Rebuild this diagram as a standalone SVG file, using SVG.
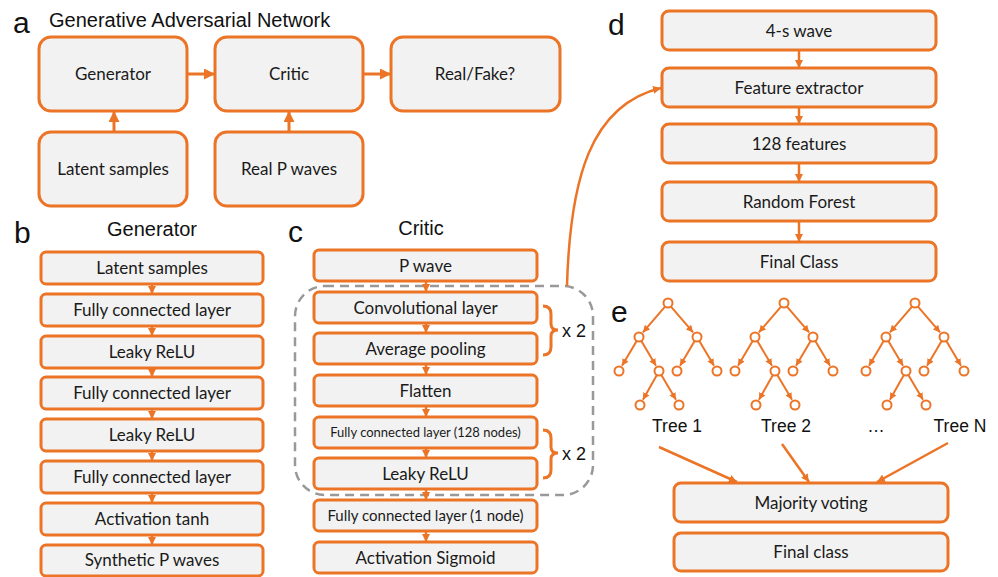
<svg xmlns="http://www.w3.org/2000/svg" width="998" height="577" viewBox="0 0 998 577">
<defs>
<style>
.bx{fill:#F2F2F2;stroke:#EC7426;stroke-width:3}
.t{font-family:Lato,"Open Sans",sans-serif;font-size:17px;fill:#1a1a1a;text-anchor:middle}
.ts{font-size:13px}
.tm{font-size:15px}
.h{font-family:"Liberation Sans",Arial,sans-serif;fill:#111}
.lt{font-family:"Liberation Sans",Arial,sans-serif;font-size:30px;fill:#111}
.c{stroke:#EC7426;stroke-width:3;fill:none}
.c2{stroke:#EC7426;stroke-width:2.5;fill:none}
.te{stroke:#EC7426;stroke-width:2;fill:none}
.nd{fill:#fff;stroke:#EC7426;stroke-width:2}
</style>
<marker id="ah" markerUnits="userSpaceOnUse" markerWidth="11" markerHeight="11" refX="11" refY="5.5" orient="auto"><path d="M0,0 L11,5.5 L0,11 z" fill="#EC7426"/></marker>
<marker id="ahs" markerUnits="userSpaceOnUse" markerWidth="8" markerHeight="8" refX="8" refY="4" orient="auto"><path d="M0,0 L8,4 L0,8 z" fill="#EC7426"/></marker>
<marker id="aht" markerUnits="userSpaceOnUse" markerWidth="7" markerHeight="7" refX="7" refY="3.5" orient="auto"><path d="M0,0 L7,3.5 L0,7 z" fill="#EC7426"/></marker>
<g id="tree">
<line class="te" marker-end="url(#aht)" x1="-3.2" y1="3.8" x2="-25.1" y2="29.4"/>
<line class="te" marker-end="url(#aht)" x1="3.2" y1="3.8" x2="25.1" y2="29.4"/>
<line class="te" marker-end="url(#aht)" x1="-31.5" y1="38.3" x2="-46" y2="62.8"/>
<line class="te" marker-end="url(#aht)" x1="-26.5" y1="38.3" x2="-12" y2="62.8"/>
<line class="te" marker-end="url(#aht)" x1="26.5" y1="38.3" x2="12" y2="62.8"/>
<line class="te" marker-end="url(#aht)" x1="31.5" y1="38.3" x2="46" y2="62.8"/>
<line class="te" marker-end="url(#aht)" x1="-11.4" y1="72.4" x2="-25.1" y2="96.8"/>
<line class="te" marker-end="url(#aht)" x1="-6.5" y1="72.3" x2="8" y2="96.8"/>
<circle class="nd" cx="0" cy="0" r="4.5"/>
<circle class="nd" cx="-29" cy="34" r="4.5"/>
<circle class="nd" cx="29" cy="34" r="4.5"/>
<circle class="nd" cx="-49" cy="68" r="4.5"/>
<circle class="nd" cx="-9" cy="68" r="4.5"/>
<circle class="nd" cx="9" cy="68" r="4.5"/>
<circle class="nd" cx="49" cy="68" r="4.5"/>
<circle class="nd" cx="-28" cy="102" r="4.5"/>
<circle class="nd" cx="11" cy="102" r="4.5"/>
</g>
</defs>
<rect width="998" height="577" fill="#fff"/>

<!-- Panel labels and headings -->
<text class="lt" x="13" y="33">a</text>
<text class="h" x="49" y="27" font-size="20">Generative Adversarial Network</text>
<text class="lt" x="14" y="243">b</text>
<text class="h" x="152" y="236" font-size="20" text-anchor="middle">Generator</text>
<text class="lt" x="288" y="242">c</text>
<text class="h" x="421" y="235" font-size="20" text-anchor="middle">Critic</text>
<text class="lt" x="608" y="35">d</text>
<text class="lt" x="611" y="322">e</text>

<!-- Panel a -->
<g id="a-generator"><rect class="bx" x="39" y="37" width="148" height="74" rx="12"/><text class="t" x="113" y="80">Generator</text></g>
<g id="a-critic"><rect class="bx" x="215" y="37" width="148" height="74" rx="12"/><text class="t" x="289" y="80">Critic</text></g>
<g id="a-realfake"><rect class="bx" x="391" y="37" width="169" height="74" rx="12"/><text class="t" x="475" y="80">Real/Fake?</text></g>
<g id="a-latent"><rect class="bx" x="39" y="132" width="148" height="74" rx="12"/><text class="t" x="113" y="175">Latent samples</text></g>
<g id="a-real"><rect class="bx" x="215" y="132" width="148" height="74" rx="12"/><text class="t" x="289" y="175">Real P waves</text></g>

<!-- Panel b -->
<g id="b-1"><rect class="bx" x="41" y="252" width="222" height="32" rx="5"/><text class="t" x="152" y="274">Latent samples</text></g>
<g id="b-2"><rect class="bx" x="41" y="294" width="222" height="32" rx="5"/><text class="t" x="152" y="316">Fully connected layer</text></g>
<g id="b-3"><rect class="bx" x="41" y="336" width="222" height="32" rx="5"/><text class="t" x="152" y="358">Leaky ReLU</text></g>
<g id="b-4"><rect class="bx" x="41" y="377" width="222" height="32" rx="5"/><text class="t" x="152" y="399">Fully connected layer</text></g>
<g id="b-5"><rect class="bx" x="41" y="419" width="222" height="32" rx="5"/><text class="t" x="152" y="441">Leaky ReLU</text></g>
<g id="b-6"><rect class="bx" x="41" y="461" width="222" height="32" rx="5"/><text class="t" x="152" y="483">Fully connected layer</text></g>
<g id="b-7"><rect class="bx" x="41" y="503" width="222" height="32" rx="5"/><text class="t" x="152" y="525">Activation tanh</text></g>
<g id="b-8"><rect class="bx" x="41" y="545" width="222" height="31" rx="5"/><text class="t" x="152" y="566">Synthetic P waves</text></g>

<!-- Panel c -->
<rect x="295" y="286" width="298" height="209" rx="30" fill="none" stroke="#999" stroke-width="2.5" stroke-dasharray="9 6"/>
<g id="c-1"><rect class="bx" x="314" y="250" width="223" height="31" rx="5"/><text class="t" x="425.5" y="271.5">P wave</text></g>
<g id="c-2"><rect class="bx" x="314" y="292" width="223" height="31" rx="5"/><text class="t" x="425.5" y="313.5">Convolutional layer</text></g>
<g id="c-3"><rect class="bx" x="314" y="333" width="223" height="31" rx="5"/><text class="t" x="425.5" y="354.5">Average pooling</text></g>
<g id="c-4"><rect class="bx" x="314" y="375" width="223" height="31" rx="5"/><text class="t" x="425.5" y="396.5">Flatten</text></g>
<g id="c-5"><rect class="bx" x="314" y="417" width="223" height="31" rx="5"/><text class="t ts" x="425.5" y="437">Fully connected layer (128 nodes)</text></g>
<g id="c-6"><rect class="bx" x="314" y="458" width="223" height="31" rx="5"/><text class="t" x="425.5" y="479.5">Leaky ReLU</text></g>
<g id="c-7"><rect class="bx" x="314" y="500" width="223" height="31" rx="5"/><text class="t tm" x="425.5" y="521">Fully connected layer (1 node)</text></g>
<g id="c-8"><rect class="bx" x="314" y="542" width="223" height="31" rx="5"/><text class="t" x="425.5" y="563.5">Activation Sigmoid</text></g>
<g id="c-brace1"><path class="c" d="M543,306 Q551,306 551,314 L551,324 Q551,330 558,330 Q551,330 551,336 L551,347 Q551,355 543,355"/><text class="h" x="562" y="337" font-size="18">x 2</text></g>
<g id="c-brace2"><path class="c" d="M543,430 Q551,430 551,438 L551,447 Q551,453 558,453 Q551,453 551,459 L551,470 Q551,478 543,478"/><text class="h" x="562" y="460" font-size="18">x 2</text></g>

<!-- Panel d -->
<g id="d-1"><rect class="bx" x="662" y="11" width="274" height="39" rx="7"/><text class="t" x="799" y="36.5">4-s wave</text></g>
<g id="d-2"><rect class="bx" x="662" y="68" width="274" height="39" rx="7"/><text class="t" x="799" y="93.5">Feature extractor</text></g>
<g id="d-3"><rect class="bx" x="662" y="124" width="274" height="39" rx="7"/><text class="t" x="799" y="149.5">128 features</text></g>
<g id="d-4"><rect class="bx" x="662" y="182" width="274" height="39" rx="7"/><text class="t" x="799" y="207.5">Random Forest</text></g>
<g id="d-5"><rect class="bx" x="662" y="242" width="274" height="39" rx="7"/><text class="t" x="799" y="267.5">Final Class</text></g>

<!-- Panel e -->
<g id="e-tree1"><use href="#tree" x="668" y="303"/><text class="h" x="677" y="432" font-size="17.5" text-anchor="middle">Tree 1</text></g>
<g id="e-tree2"><use href="#tree" x="784" y="303"/><text class="h" x="786" y="432" font-size="17.5" text-anchor="middle">Tree 2</text></g>
<text class="h" x="876" y="432" font-size="17.5" text-anchor="middle">…</text>
<g id="e-treeN"><use href="#tree" x="915" y="303"/><text class="h" x="960" y="432" font-size="17.5" text-anchor="middle">Tree N</text></g>
<g id="e-vote"><rect class="bx" x="674" y="483" width="274" height="39" rx="7"/><text class="t" x="811" y="508.5">Majority voting</text></g>
<g id="e-final"><rect class="bx" x="674" y="533" width="274" height="38" rx="7"/><text class="t" x="811" y="558">Final class</text></g>

<!-- Connectors -->
<g id="connectors">
<line class="c" marker-end="url(#ah)" x1="187" y1="74" x2="215" y2="74"/>
<line class="c" marker-end="url(#ah)" x1="363" y1="74" x2="391" y2="74"/>
<line class="c" marker-end="url(#ah)" x1="114" y1="132" x2="114" y2="111"/>
<line class="c" marker-end="url(#ah)" x1="289" y1="132" x2="289" y2="111"/>

<line class="c2" marker-end="url(#ahs)" x1="152" y1="284" x2="152" y2="294"/>
<line class="c2" marker-end="url(#ahs)" x1="152" y1="326" x2="152" y2="336"/>
<line class="c2" marker-end="url(#ahs)" x1="152" y1="368" x2="152" y2="377"/>
<line class="c2" marker-end="url(#ahs)" x1="152" y1="409" x2="152" y2="419"/>
<line class="c2" marker-end="url(#ahs)" x1="152" y1="451" x2="152" y2="461"/>
<line class="c2" marker-end="url(#ahs)" x1="152" y1="493" x2="152" y2="503"/>
<line class="c2" marker-end="url(#ahs)" x1="152" y1="535" x2="152" y2="545"/>

<line class="c2" marker-end="url(#ahs)" x1="426" y1="281" x2="426" y2="292"/>
<line class="c2" marker-end="url(#ahs)" x1="426" y1="323" x2="426" y2="333"/>
<line class="c2" marker-end="url(#ahs)" x1="426" y1="364" x2="426" y2="375"/>
<line class="c2" marker-end="url(#ahs)" x1="426" y1="406" x2="426" y2="417"/>
<line class="c2" marker-end="url(#ahs)" x1="426" y1="448" x2="426" y2="458"/>
<line class="c2" marker-end="url(#ahs)" x1="426" y1="489" x2="426" y2="500"/>
<line class="c2" marker-end="url(#ahs)" x1="426" y1="531" x2="426" y2="542"/>

<path class="c2" marker-end="url(#ahs)" d="M567,286 C570,180 590,105 661,88"/>

<line class="c2" marker-end="url(#ahs)" x1="799" y1="50" x2="799" y2="68"/>
<line class="c2" marker-end="url(#ahs)" x1="799" y1="107" x2="799" y2="124"/>
<line class="c2" marker-end="url(#ahs)" x1="799" y1="163" x2="799" y2="182"/>
<line class="c2" marker-end="url(#ahs)" x1="799" y1="221" x2="799" y2="242"/>

<line class="c2" marker-end="url(#ahs)" x1="659" y1="447" x2="737" y2="482"/>
<line class="c2" marker-end="url(#ahs)" x1="782" y1="444" x2="809" y2="482"/>
<line class="c2" marker-end="url(#ahs)" x1="948" y1="443" x2="877" y2="482"/>
</g>
</svg>
